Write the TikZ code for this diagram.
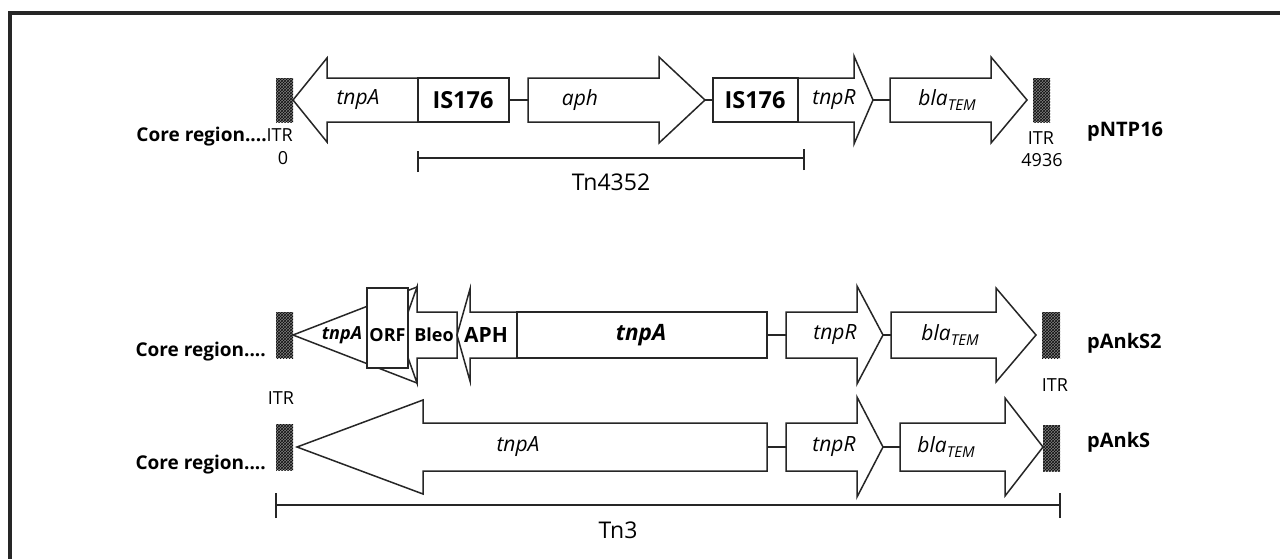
\documentclass[tikz,border=0pt]{standalone}
\usepackage{fontspec}
\setmainfont{Open Sans}
\usetikzlibrary{patterns}
\newcommand\GeneR[7]{% name, x0, head base, tip, cy, h, H
  \draw[gene] (#2,#5-#6) -- (#3,#5-#6) -- (#3,#5-#7) -- (#4,#5) -- (#3,#5+#7) -- (#3,#5+#6) -- (#2,#5+#6) -- cycle;
  \coordinate (#1-w) at (#2,#5); \coordinate (#1-e) at (#4,#5);}
\newcommand\GeneL[7]{% name, tip, head base, x1, cy, h, H
  \draw[gene] (#2,#5) -- (#3,#5-#7) -- (#3,#5-#6) -- (#4,#5-#6) -- (#4,#5+#6) -- (#3,#5+#6) -- (#3,#5+#7) -- cycle;
  \coordinate (#1-w) at (#2,#5); \coordinate (#1-e) at (#4,#5);}
\newcommand\GeneBox[5]{% name, x0, x1, y0, y1
  \draw[gene] (#2,#4) rectangle (#3,#5);
  \coordinate (#1-w) at (#2,{(#4+#5)/2}); \coordinate (#1-e) at (#3,{(#4+#5)/2});}
\newcommand\ITRbox[5]{%
  \fill[black!50] (#2,#4) rectangle (#3,#5);
  \fill[pattern=crosshatch, pattern color=black!95] (#2,#4) rectangle (#3,#5);
  \coordinate (#1) at ({(#2+#3)/2},{(#4+#5)/2});}
\newcommand\blaT{\textit{bla}\raisebox{-0.22em}{\fontsize{15}{15}\selectfont\itshape TEM}}
\begin{document}
\begin{tikzpicture}[x=1pt,y=-1pt,
  gene/.style={draw=black!85, line width=1.5pt, fill=white, line join=miter},
  conn/.style={draw=black!85, line width=1.5pt},
  brk/.style={draw=black!85, line width=1.4pt},
  frame/.style={draw=black!85, line width=3.3pt},
  lab/.style={inner sep=0pt, font=\fontsize{21}{24}\selectfont},
  labs/.style={inner sep=0pt, font=\fontsize{18}{22}\selectfont},
  core/.style={inner sep=0pt, font=\fontsize{19}{24}\selectfont\bfseries},
  itrlab/.style={inner sep=0pt, font=\fontsize{18}{22}\selectfont},
  plas/.style={inner sep=0pt, anchor=west, font=\fontsize{20}{24}\selectfont\bfseries},
  tnlab/.style={inner sep=0pt, font=\fontsize{23}{28}\selectfont},
  isl/.style={inner sep=0pt, font=\fontsize{23.5}{26}\selectfont\bfseries}]
\useasboundingbox (0,0) rectangle (1280,558);
\fill[white] (0,0) rectangle (1280,558);
\draw[frame] (10,560) -- (10,13) -- (1282,13);

% ---------------- Row 1: pNTP16
\ITRbox{r1itrL}{276}{293}{78}{122}
\GeneL{r1tnpA}{293}{327}{418}{100}{22}{42}
\GeneBox{r1is1}{418}{509}{78}{122}
\GeneR{r1aph}{528}{659}{705}{100}{22}{43}
\GeneBox{r1is2}{713}{798}{78}{122}
\GeneR{r1tnpR}{798}{854}{873}{100}{22}{44}
\GeneR{r1bla}{890}{991}{1027}{100}{22}{43}
\ITRbox{r1itrR}{1033}{1050}{78}{122}
\draw[conn] (r1is1-e) -- (r1aph-w);
\draw[conn] (r1aph-e) -- (r1is2-w);
\draw[conn] (r1tnpR-e) -- (r1bla-w);
\node[lab] (t1a) at (358,100) {\textit{tnpA}};
\node[isl] (t1b) at (463,100) {IS176};
\node[lab] (t1c) at (580,100) {\textit{aph}};
\node[isl] (t1d) at (755,100) {IS176};
\node[lab] (t1e) at (834,100) {\textit{tnpR}};
\node[lab] (t1f) at (947,100) {\blaT};
\node[inner sep=0pt, anchor=east] (c1) at (293,137) {{\fontsize{19}{24}\selectfont\bfseries Core region....}{\fontsize{18}{22}\selectfont ITR}};
\node[itrlab] (z1) at (283,158) {0};
\node[itrlab] (i1r) at (1041,138) {ITR};
\node[itrlab] (n1r) at (1042,160) {4936};
\node[plas] (p1) at (1087,132) {pNTP16};
\coordinate (b1a) at (418,158); \coordinate (b1b) at (804,158);
\draw[brk] (b1a) -- (b1b);
\draw[brk] ([yshift=-14]b1a) -- ([yshift=7]b1a);
\draw[brk] ([yshift=-12]b1b) -- ([yshift=9]b1b);
\node[tnlab] (tn1) at (611,182) {Tn4352};

% ---------------- Row 2: pAnkS2
\ITRbox{r2itrL}{276}{293}{312}{358}
\draw[gene] (293,335) -- (417,287) -- (417,383) -- cycle;
\coordinate (r2tri) at (340,335);
\GeneL{r2bleo}{400}{417}{457}{335}{23}{48}
\GeneBox{r2orf}{367}{408}{288}{368}
\GeneL{r2aph}{457}{470}{517}{335}{23}{46}
\GeneBox{r2tnpA}{517}{767}{312}{358}
\GeneR{r2tnpR}{786}{857}{883}{335}{23}{49}
\GeneR{r2bla}{891}{996}{1036}{335}{23}{47}
\ITRbox{r2itrR}{1042}{1060}{312}{358}
\draw[conn] (r2tnpA-e) -- (r2tnpR-w);
\draw[conn] (r2tnpR-e) -- (r2bla-w);
\node[labs,font=\fontsize{18}{22}\selectfont\bfseries\itshape] (t2a) at (342,335) {tnpA};
\node[labs,font=\fontsize{18}{22}\selectfont\bfseries] (t2b) at (387.5,335) {ORF};
\node[labs,font=\fontsize{18}{22}\selectfont\bfseries] (t2c) at (434,335) {Bleo};
\node[labs,font=\fontsize{21}{24}\selectfont\bfseries] (t2d) at (486,335) {APH};
\node[lab,font=\fontsize{22.5}{26}\selectfont\bfseries\itshape] (t2e) at (641,335) {tnpA};
\node[lab] (t2f) at (835,335) {\textit{tnpR}};
\node[lab] (t2g) at (950,335) {\blaT};
\node[core, anchor=east] (c2) at (266,352) {Core region....};
\node[itrlab] (i2l) at (281,398) {ITR};
\node[itrlab] (i2r) at (1055,385) {ITR};
\node[plas] (p2) at (1087,343) {pAnkS2};

% ---------------- Row 3: pAnkS
\ITRbox{r3itrL}{276}{293}{424}{470}
\GeneL{r3tnpA}{297}{423}{767}{447}{24}{47}
\GeneR{r3tnpR}{786}{857}{883}{447}{24}{50}
\GeneR{r3bla}{900}{1005}{1043}{447}{24}{49}
\ITRbox{r3itrR}{1043}{1060}{425}{471}
\draw[conn] (r3tnpA-e) -- (r3tnpR-w);
\draw[conn] (r3tnpR-e) -- (r3bla-w);
\node[lab] (t3a) at (518,447) {\textit{tnpA}};
\node[lab] (t3b) at (834,447) {\textit{tnpR}};
\node[lab] (t3c) at (946,447) {\blaT};
\node[core, anchor=east] (c3) at (266,465) {Core region....};
\node[plas] (p3) at (1087,442) {pAnkS};
\coordinate (b3a) at (276,505); \coordinate (b3b) at (1060,505);
\draw[brk] (b3a) -- (b3b);
\draw[brk] ([yshift=-13]b3a) -- ([yshift=12]b3a);
\draw[brk] ([yshift=-13]b3b) -- ([yshift=12]b3b);
\node[tnlab] (tn3) at (618,530) {Tn3};
\end{tikzpicture}
\end{document}
